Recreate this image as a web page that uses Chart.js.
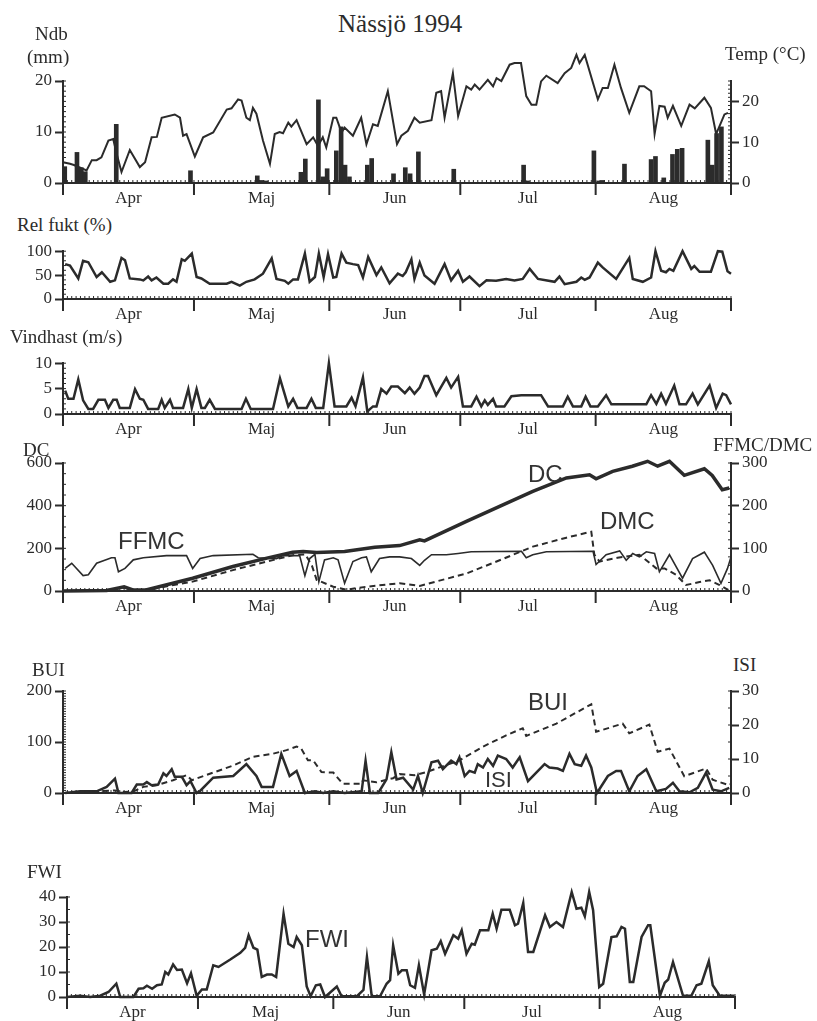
<!DOCTYPE html>
<html>
<head>
<meta charset="utf-8">
<title>Nässjö 1994</title>
<script src="https://cdn.jsdelivr.net/npm/chart.js@4.4.1/dist/chart.umd.min.js"></script>
<style>
  html, body { margin: 0; padding: 0; background: #fff; }
  #page { position: relative; width: 817px; height: 1021px; overflow: hidden; background: #fff; }
  #page canvas { position: absolute; }
  .lbl { position: absolute; z-index: 2; font-family: 'Liberation Serif', serif; font-size: 19px; line-height: 1; color: #2b2b2b; white-space: nowrap; }
  .note { position: absolute; z-index: 2; font-family: 'Liberation Sans', Arial, sans-serif; font-size: 24px; line-height: 1; color: #333; white-space: nowrap; }
</style>
</head>
<body>
<div id="page">
  <canvas id="c1" width="817" height="172" style="left:0;top:41px"></canvas>
  <canvas id="c2" width="817" height="91" style="left:0;top:238px"></canvas>
  <canvas id="c3" width="817" height="94" style="left:0;top:350px"></canvas>
  <canvas id="c4" width="817" height="173" style="left:0;top:448px"></canvas>
  <canvas id="c5" width="817" height="147" style="left:0;top:676px"></canvas>
  <canvas id="c6" width="817" height="141" style="left:4px;top:880px"></canvas>

  <div class="lbl" style="left:338px;top:11px;font-size:25px">Nässjö 1994</div>
  <div class="lbl" style="left:35px;top:24px">Ndb</div>
  <div class="lbl" style="left:27px;top:47px">(mm)</div>
  <div class="lbl" style="left:725px;top:44px">Temp (°C)</div>
  <div class="lbl" style="left:17px;top:215px">Rel fukt (%)</div>
  <div class="lbl" style="left:10px;top:327px">Vindhast (m/s)</div>
  <div class="lbl" style="left:23px;top:440px">DC</div>
  <div class="lbl" style="left:713px;top:435px">FFMC/DMC</div>
  <div class="lbl" style="left:32px;top:660px">BUI</div>
  <div class="lbl" style="left:733px;top:655px">ISI</div>
  <div class="lbl" style="left:27px;top:862px">FWI</div>

  <div class="note" style="left:118px;top:529px">FFMC</div>
  <div class="note" style="left:528px;top:462px">DC</div>
  <div class="note" style="left:600px;top:509px">DMC</div>
  <div class="note" style="left:528px;top:690px">BUI</div>
  <div class="note" style="left:485px;top:769px;font-size:22px">ISI</div>
  <div class="note" style="left:305px;top:927px">FWI</div>
</div>
<script>
// day 0 = 1 april, day 153 = 31 aug
const months = ['Apr', 'Maj', 'Jun', 'Jul', 'Aug'];
const monthEdges = [0, 30, 61, 91, 122, 153];
const monthMid = [15, 45.5, 76, 106.5, 137.5];

// [day, value]
const precip = [[0.4,3.2],[3.2,6.0],[4.2,3.0],[5.1,2.2],[12.2,11.5],[29.2,2.4],[44.5,1.4],[45.5,0.5],[46.5,0.4],
  [54.5,2.1],[55.5,4.7],[58.5,16.3],[59.5,1.2],[60.5,2.8],[62.6,6.3],[63.7,11],[64.6,3.5],[65.6,1.2],[69.7,3.5],
  [70.7,4.8],[75.7,1.8],[78.4,3.0],[79.5,1.8],[81.4,6.1],[89.5,2.7],[105.5,3.5],[106.4,0.4],[121.6,6.3],[122.7,0.4],
  [123.6,0.5],[128.6,3.7],[134.7,4.6],[135.7,5.2],[137.6,1.0],[139.6,5.6],[140.7,6.6],[141.8,6.8],[147.7,8.4],
  [148.7,3.5],[149.7,9.7],[150.8,11]];

const temp = [[0,5.1],[1.6,4.7],[2.5,4.4],[5.4,3.1],[6.6,5.6],[7.7,5.6],[8.8,6.3],[10.4,10.4],[11.5,10.8],[12.3,7.1],
  [13.4,2.7],[15.3,8.1],[17.6,3.9],[18.8,5.1],[20.3,11.2],[21.5,11.3],[22.6,16],[25.6,16.8],[26.8,16],[27.5,11.6],
  [28.3,12],[30.2,6.5],[32.1,11.2],[34.4,12.4],[37.5,18],[38.6,18.3],[40.1,20.5],[40.9,20.2],[42,16],[42.8,15.4],
  [43.5,18.4],[44.3,17],[45.8,10.4],[47.4,4.7],[48.5,12],[49.6,12.5],[50.4,12.2],[51.6,14.8],[52.3,13.8],[53.5,15.4],
  [55.8,9.5],[57.3,11.2],[58.4,9.1],[59.5,11.2],[60.3,8.7],[61.9,16],[62.6,16],[63.8,12.4],[64.5,13.6],[66.4,11.6],
  [68.3,16],[69.5,9.5],[71,14.4],[72.1,14],[74.4,22.5],[76.5,9.5],[77.5,11.6],[79,12.8],[80.5,16],[81.7,14.8],
  [84.4,15.4],[85.5,22.1],[86.6,22.5],[87.4,16],[89.3,26.9],[90.5,16.4],[92.4,23.7],[93.5,22.9],[94.3,24.1],[95.4,22.9],
  [97.3,25.3],[98.5,23.7],[99.3,25.7],[100.4,25],[102.3,29],[103.4,29.4],[104.9,29.4],[106.1,21.3],[107.3,19.2],
  [108.4,19.2],[109.5,24.9],[110.7,26.3],[113.3,24.5],[114.9,26.9],[116.4,28.2],[117.6,31.4],[118.3,29.4],[119.5,31.4],
  [122.5,20.5],[123.6,23.3],[124.8,23.3],[126.3,29],[127.8,23.3],[129.7,17.2],[132,23.7],[133.1,23.7],[134.7,22.5],
  [135.5,12],[136.6,18.9],[137.8,18.7],[138.5,16],[139.7,18.9],[141.6,14],[143.5,19.2],[144.7,18.3],[146.9,20.9],
  [148.4,18.4],[149.6,12],[151.5,16.8],[152.3,17.2]];

const relHum = [[0.5,73],[1.6,70],[3.5,43],[4.6,80],[5.8,77],[7.7,46],[8.9,56],[10.8,36],[11.9,39],[13.4,86],[14.2,81],
  [15.3,43],[17.6,41],[18.4,39],[19.5,47],[20.3,39],[21.4,45],[23,32],[24.1,32],[25.2,41],[26,36],[27.2,83],[27.9,80],
  [29.5,95],[30.6,46],[31.7,43],[33.6,32],[37.5,32],[38.6,36],[40.5,28],[42,36],[43.9,41],[45.8,53],[47.8,85],[48.9,42],
  [50.8,38],[51.6,32],[52.7,41],[53.8,41],[55.4,95],[56.5,36],[57.7,46],[58.6,95],[59.7,46],[60.7,94],[61.9,45],
  [62.6,46],[63.8,95],[64.9,76],[66.4,73],[67.6,71],[68.7,45],[69.9,88],[71.8,50],[72.9,66],[74.8,33],[76.7,53],
  [77.8,48],[78.5,56],[79.8,83],[80.5,42],[81.7,76],[82.8,49],[85.1,32],[87.4,73],[88.9,39],[90.5,59],[91.6,36],
  [93.1,47],[95.4,27],[97,39],[99.2,38],[101.5,42],[103.4,39],[105.3,42],[106.9,63],[108.8,42],[112.6,36],[113.7,47],
  [114.9,31],[117.6,36],[118.7,45],[119.5,40],[120.6,45],[122.5,76],[123.6,66],[126.7,42],[129.7,86],[130.5,42],
  [132.8,36],[134.7,45],[135.7,100],[137,59],[138.1,56],[138.9,63],[139.8,59],[141.9,100],[143.9,63],[144.6,69],
  [145.8,57],[148.4,57],[150,100],[151,99],[152.2,58],[153,53]];

const wind = [[0.5,4.6],[1.2,3],[2.4,3],[3.5,6.8],[4.6,2.7],[5.8,1],[6.9,1],[8.1,2.8],[9.6,2.8],[10.4,1.2],[11.5,2.8],
  [12.3,2.8],[13,1.2],[15.3,1.2],[16.5,4.9],[17.6,3],[18.4,2.8],[19.5,1],[21.8,1],[22.6,2.8],[23.3,1.2],[24.5,2.8],
  [25.2,1.2],[27.5,1.2],[28.7,4.9],[29.5,1.2],[30.6,4.9],[31.7,1.2],[32.5,1.2],[33.6,2.8],[34.8,1],[40.9,1],[41.9,3],
  [43,1],[48.1,1],[49.7,7],[51.6,1.5],[52.7,3],[53.7,1.2],[55.8,1.2],[56.9,3],[57.9,1.2],[59.6,1.2],[60.9,10],
  [62.2,1.5],[64.9,1.5],[66.1,3.2],[67,1.5],[68.7,7.2],[69.7,0.5],[71,1.5],[71.8,1.5],[72.9,4.9],[74.1,4],[75.2,5.4],
  [76.7,5.4],[78.3,4.1],[79.4,5.2],[80.5,4],[81.7,5.2],[82.8,7.5],[83.6,7.5],[85.5,3.7],[87.8,7.1],[88.9,5.2],
  [90.5,7.3],[91.6,1.5],[93.5,1.5],[94.7,3.4],[95.8,1.5],[96.6,2.7],[97.3,1.8],[98.5,3],[99.2,1.5],[101.1,1.5],
  [102.7,3.5],[105,3.7],[109.5,3.7],[111.1,1.5],[114.5,1.5],[115.6,3.4],[116.8,1.5],[118.7,1.5],[119.7,3.4],
  [120.8,1.5],[122.5,1.5],[124.4,3.7],[125.6,1.9],[133.6,1.9],[134.7,3.7],[135.9,2],[137,4],[138.1,2],[140,5.6],
  [141.2,1.9],[142.7,1.9],[144.2,4],[145.4,1.9],[148.1,5.6],[149.6,1.2],[151.1,4],[151.9,3.7],[153,1.9]];

const dc = [[0,0],[10,2],[14,20],[16,5],[19,5],[29.7,60],[38.9,115],[46.7,154],[52.6,182],[55,185],[58.1,180],
  [64.5,185],[71.4,205],[77.1,213],[81.7,240],[82.8,235],[92.4,326],[100,397],[107.6,467],[115.3,530],[120.6,545],
  [122.1,526],[125.9,561],[130.4,585],[133.9,608],[136.2,585],[138.9,608],[142.3,542],[146.9,573],[148.7,542],
  [151,475],[152.6,483]];

const ffmc = [[0.5,53],[2,65],[4.6,36],[5.8,38],[7.7,65],[11.1,78],[11.9,78],[12.7,45],[14.2,53],[16.1,73],[18.4,78],
  [23.7,83],[28.3,83],[29.7,53],[31.4,76],[34.4,83],[43.5,86],[44.7,78],[48.9,76],[50.4,83],[54.2,83],[55.4,36],
  [56.5,76],[57.7,86],[58.6,22],[59.9,73],[61.9,78],[63,73],[64.5,18],[66.4,69],[68.4,78],[69.5,80],[70.6,45],
  [72.5,76],[74.8,80],[77.1,80],[79.8,76],[81.7,60],[82.8,72],[84.4,85],[87.8,85],[90.5,88],[93.5,92],[105,93],
  [106.1,78],[107.6,85],[110.7,92],[121.4,93],[122.1,62],[124.4,85],[127.5,94],[129,72],[130.5,88],[132,80],
  [133.6,92],[135.5,88],[136.6,45],[138.9,85],[141.9,30],[144.2,76],[146.9,91],[148.8,60],[150.7,18],[152.2,53],
  [153,80]];

const dmc = [[0,0],[10,2],[14,8],[16,2],[19,2],[29.7,22],[38.9,49],[46.7,69],[52.6,84],[55.5,86],[57,60],[58.1,26],
  [61.9,10],[64.9,3],[69.5,10],[74,15],[77.1,18],[81.7,12],[92.4,41],[100,72],[107.6,104],[115.3,125],[121,139],
  [121.7,85],[122.9,69],[127,78],[132,85],[135.9,53],[137.8,53],[140.4,38],[142.7,14],[145.8,21],[148.1,25],
  [150.4,14],[152.2,3],[153,6]];

const bui = [[0,0],[11.9,5],[14,2],[16.1,3],[18.4,12],[21.4,15],[25.2,25],[28.3,35],[29.5,25],[34.4,40],[39,54],
  [43.5,71],[48.1,77],[51.2,84],[53.5,91],[54.5,88],[56.1,64],[57.3,64],[59.2,41],[61.9,40],[64.1,18],[68.4,18],
  [68.7,25],[71.8,21],[75.6,29],[77.1,37],[80.5,35],[83.2,41],[90.8,64],[96.2,91],[101.5,113],[105.3,127],[106.1,112],
  [113,136],[121,174],[122.1,120],[128.2,136],[129.7,117],[134.3,134],[136.2,81],[138.9,87],[142.3,33],[147.3,48],
  [148.8,26],[152.6,15],[153,18]];

const isi = [[0.5,0],[3.9,0.5],[7.7,0.5],[10,1.8],[11.9,4.2],[12.7,0],[15.7,0],[16.9,2.5],[18.4,2.5],[19.2,3.2],
  [20.3,2.3],[21.8,2.5],[23,5.8],[23.7,5],[24.9,7],[25.6,4.8],[27.2,4.8],[28.3,2.3],[29.2,3.5],[30.6,0],[31.4,0.6],
  [34.4,4.5],[39,5],[42,8.5],[44.3,5],[45.5,1.8],[48.1,1.8],[50,11.5],[51.9,5],[53.5,6.5],[55.4,0],[57.7,0.5],
  [59.6,0],[61.9,0.5],[64.5,0],[68.4,0.5],[69.3,9.5],[70.3,0],[72.2,0],[74.1,4],[75.2,12],[76.4,4],[77.9,4.5],
  [80.2,1],[81.3,5],[82.4,0],[84.4,9],[85.9,9.5],[87,7],[88.9,9.5],[90.1,8.5],[90.8,10.5],[92,5],[93.1,6.5],[94.3,6],
  [95,8.5],[96.2,7.5],[97.3,10],[98.5,8],[99.6,11],[101.5,10],[103,7.5],[104.6,10.5],[106.5,3.5],[108.4,6],
  [110.3,8.5],[111.4,7.5],[113.3,7.2],[114.5,6.5],[116,11.5],[117.2,8.5],[118.7,8],[119.8,11],[121,7.5],[122.3,0],
  [124.8,5],[126.7,6.5],[127.8,6.5],[129.7,0.5],[131.6,5],[133.6,7],[135.9,0.5],[138.1,1.2],[139.7,3],[141.2,0.5],
  [143.5,0.2],[145.4,1.5],[147.3,6],[148.8,1],[150.7,0.5],[152.6,1.5]];

const fwi = [[0,0],[3,0.5],[5.3,0],[7.6,0.5],[9.5,2],[11.3,5.3],[12.2,0],[15.2,0],[16.4,3.3],[17.5,3.5],[18.3,4.5],
  [19.5,3.3],[20.6,4.7],[21.7,5],[22.5,10],[23.2,9],[24.3,13],[25.2,10.8],[26.3,11],[27.5,5.5],[28.4,9.5],[29.7,0.5],
  [30.9,3],[32,3],[33.5,12.7],[34.7,12],[37.4,15],[39.7,17.7],[40.8,19.7],[41.6,24.7],[42.7,19.7],[43.6,19],[44.6,8],
  [45.8,9],[46.9,9],[47.9,8],[49.6,33.3],[50.7,21.3],[51.9,20],[52.6,24],[53.8,20.7],[54.9,4.2],[55.8,0.3],[57,4.7],
  [58,5],[59.1,0],[61.8,4.2],[62.9,0.3],[66.4,0.3],[67.9,2.8],[68.7,16],[69.8,0.3],[71.7,0.3],[73.2,5.3],[74,6.7],
  [74.7,20.7],[75.9,9.3],[76.7,10.7],[77.8,10.7],[78.6,4.7],[79.7,3.7],[80.6,12.7],[81.8,1],[83.5,18.7],[84.7,19.3],
  [85.6,22.3],[86.6,17.3],[88.5,24.7],[89.6,23.3],[90.4,26.7],[91.5,17.3],[92.7,21.3],[93.4,20.9],[94.6,26.7],
  [96.5,26.7],[97.5,33.3],[98.4,27.3],[99.5,34.9],[101.4,34.9],[102.6,28.7],[103.3,29.3],[104.5,37.6],[105.6,18],
  [106.8,18],[109.5,32.7],[110.6,28],[112.1,30],[113.6,28],[115.6,42],[116.7,35.3],[117.8,35.7],[118.6,32.3],
  [119.6,42],[120.5,34.7],[121.9,4],[122.8,5.3],[124.7,24],[125.9,24.3],[127,28],[127.8,27.3],[128.9,6],[129.7,6],
  [131.6,24],[133.1,28.7],[133.6,28.7],[135.8,0.5],[136.9,5.7],[137.7,7],[138.8,14],[141.1,0.5],[143,0.5],[144.2,4.7],
  [145.3,5.3],[147,14.3],[147.9,4.7],[149.5,0.5],[152.9,0.5]];

const ink = '#2b2b2b';
const tickFont = { family: 'Liberation Serif', size: 17 };

// minor ruler ticks on the axes, month boundary ticks on x
const ruler = {
  id: 'ruler',
  afterDraw(chart, args, opts) {
    const ctx = chart.ctx;
    ctx.save();
    ctx.strokeStyle = ink;
    ctx.lineWidth = 1;
    ctx.beginPath();
    for (const id of Object.keys(opts.minor || {})) {
      const s = chart.scales[id];
      const step = opts.minor[id];
      for (let v = s.min; v <= s.max + 1e-9; v += step) {
        const p = s.getPixelForValue(v);
        if (s.isHorizontal()) {
          ctx.moveTo(p, s.top);
          ctx.lineTo(p, s.top - 3);
        } else if (s.position === 'left') {
          ctx.moveTo(s.right, p);
          ctx.lineTo(s.right + 3, p);
        } else {
          ctx.moveTo(s.left, p);
          ctx.lineTo(s.left - 3, p);
        }
      }
    }
    ctx.stroke();
    const x = chart.scales.x;
    ctx.lineWidth = 2;
    ctx.beginPath();
    monthEdges.forEach(d => {
      const p = x.getPixelForValue(d);
      ctx.moveTo(p, x.top);
      ctx.lineTo(p, x.top + 12);
    });
    ctx.stroke();
    ctx.restore();
  }
};

function xAxis(h) {
  return {
    type: 'linear', min: 0, max: 153, offset: false,
    grid: { display: false, drawTicks: false },
    border: { color: ink, width: 2 },
    afterBuildTicks: s => { s.ticks = monthMid.map(v => ({ value: v })); },
    ticks: { autoSkip: false, maxRotation: 0, font: tickFont, color: ink, padding: 5,
      callback: (v, i) => months[i] },
    afterFit: s => { s.height = h; }
  };
}

function yAxis(position, max, step) {
  return {
    position, min: 0, max,
    ticks: { stepSize: step, font: tickFont, color: ink, padding: 3 },
    grid: { drawOnChartArea: false, tickLength: 8, tickColor: ink, tickWidth: 2 },
    border: { color: ink, width: 2 },
    afterFit: s => { s.width = position === 'left' ? 63 : 86; }
  };
}

function line(pairs, axis, width, dash) {
  return {
    type: 'line', data: pairs.map(([x, y]) => ({ x, y })), yAxisID: axis,
    borderColor: ink, borderWidth: width, borderDash: dash || [],
    pointRadius: 0, tension: 0, fill: false, clip: false
  };
}

function panel(id, datasets, scales, padTop, padRight, minor) {
  return new Chart(document.getElementById(id), {
    type: 'line',
    data: { datasets },
    options: {
      responsive: false, animation: false, events: [],
      layout: { padding: { top: padTop, right: padRight, left: 0, bottom: 0 } },
      scales,
      plugins: { legend: { display: false }, tooltip: { enabled: false }, ruler: { minor } }
    },
    plugins: [ruler]
  });
}

panel('c1', [
  { type: 'bar', data: precip.map(([x, y]) => ({ x, y })), yAxisID: 'y',
    backgroundColor: ink, barThickness: 4 },
  line(temp, 'y2', 2)
], { x: xAxis(30), y: yAxis('left', 20, 10), y2: yAxis('right', 25, 5) }, 40, 0, { x: 1, y: 1, y2: 1 });

panel('c2', [line(relHum, 'y', 2.5)],
  { x: xAxis(30), y: yAxis('left', 100, 50) }, 12, 86, { x: 1, y: 10 });

panel('c3', [line(wind, 'y', 2.5)],
  { x: xAxis(30), y: yAxis('left', 10, 5) }, 12, 86, { x: 1, y: 1 });

panel('c4', [
  line(dc, 'y', 3.5),
  line(ffmc, 'y2', 1.6),
  line(dmc, 'y2', 2, [6, 4])
], { x: xAxis(30), y: yAxis('left', 600, 200), y2: yAxis('right', 300, 100) }, 15, 0, { x: 1, y: 50, y2: 20 });

panel('c5', [
  line(bui, 'y', 2, [6, 4]),
  line(isi, 'y2', 2.5)
], { x: xAxis(30), y: yAxis('left', 200, 100), y2: yAxis('right', 30, 10) }, 15, 0, { x: 1, y: 5, y2: 5 });

panel('c6', [line(fwi, 'y', 2.5)],
  { x: xAxis(24), y: yAxis('left', 40, 10) }, 17, 86, { x: 1, y: 5 });
</script>
</body>
</html>
